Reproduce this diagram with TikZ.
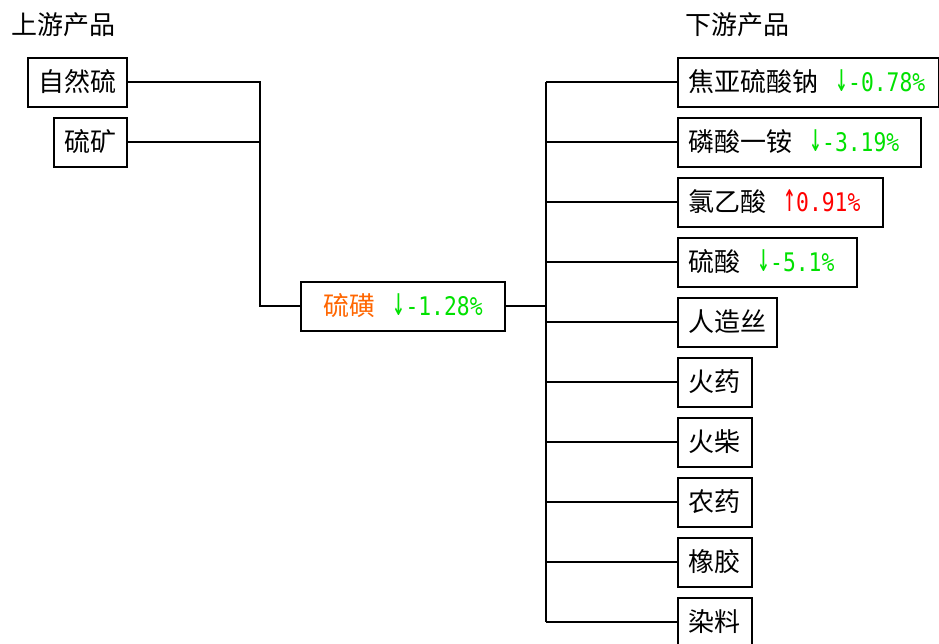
\documentclass[tikz,border=0pt]{standalone}
\usepackage{fontspec}
\usepackage{graphicx}
\setmainfont{Noto Sans CJK SC}
\newfontfamily\cjk{Noto Sans CJK SC}
\newfontfamily\monof{DejaVu Sans Mono}
\definecolor{dn}{RGB}{0,225,0}
\definecolor{upc}{RGB}{255,0,0}
\definecolor{org}{RGB}{255,102,0}
\newcommand{\chg}[3]{\hspace{13pt}{\color{#1}\monof\fontsize{16pt}{16pt}\selectfont\scalebox{1}[1.9]{#2}\scalebox{1}[1.2]{#3}}}
\begin{document}
\begin{tikzpicture}[x=0.75pt,y=-0.75pt,
  box/.style={draw, line width=1.5pt, minimum height=36.75pt, inner xsep=7.5pt, inner ysep=0pt,
    font=\cjk\fontsize{19.5pt}{21pt}\selectfont},
  rbox/.style={box, anchor=west, text width=#1, align=left},
  lbox/.style={box, anchor=east, minimum width=#1},
  conn/.style={line width=1.5pt},
  title/.style={anchor=west, inner sep=0pt, font=\cjk\fontsize{19.5pt}{21pt}\selectfont}]
\useasboundingbox (0,0) rectangle (939,643);
\fill[white] (0,0) rectangle (939,643);
\node[title] (tl) at (11,25) {上游产品};
\node[title] (tr) at (685,25) {下游产品};
\node[lbox=74.25pt] (zrl) at (128,82) {自然硫};
\node[lbox=54.75pt] (lk) at (128,142) {硫矿};
\node[box, minimum width=153pt] (lh) at (403,306) {{\color{org}硫磺}\chg{dn}{↓}{-1.28\%}};
\coordinate (jl) at (260,306);
\coordinate (jr) at (546,306);
\node[rbox=180.75pt] (r1) at (677,82) {焦亚硫酸钠\chg{dn}{↓}{-0.78\%}};
\node[rbox=167.25pt] (r2) at (677,142) {磷酸一铵\chg{dn}{↓}{-3.19\%}};
\node[rbox=138.75pt] (r3) at (677,202) {氯乙酸\chg{upc}{↑}{0.91\%}};
\node[rbox=119.25pt] (r4) at (677,262) {硫酸\chg{dn}{↓}{-5.1\%}};
\node[rbox=59.25pt] (r5) at (677,322) {人造丝};
\node[rbox=40.5pt] (r6) at (677,382) {火药};
\node[rbox=40.5pt] (r7) at (677,442) {火柴};
\node[rbox=40.5pt] (r8) at (677,502) {农药};
\node[rbox=40.5pt] (r9) at (677,562) {橡胶};
\node[rbox=40.5pt] (r10) at (677,622) {染料};
\draw[conn] (zrl.east) -- (zrl.east -| jl) -- (jl) -- (lh.west);
\draw[conn] (lk.east) -- (lk.east -| jl);
\draw[conn] (lh.east) -- (jr);
\draw[conn] (r1.west -| jr) -- (r10.west -| jr);
\foreach \i in {1,...,10} {\draw[conn] (r\i.west -| jr) -- (r\i.west);}
\end{tikzpicture}
\end{document}
